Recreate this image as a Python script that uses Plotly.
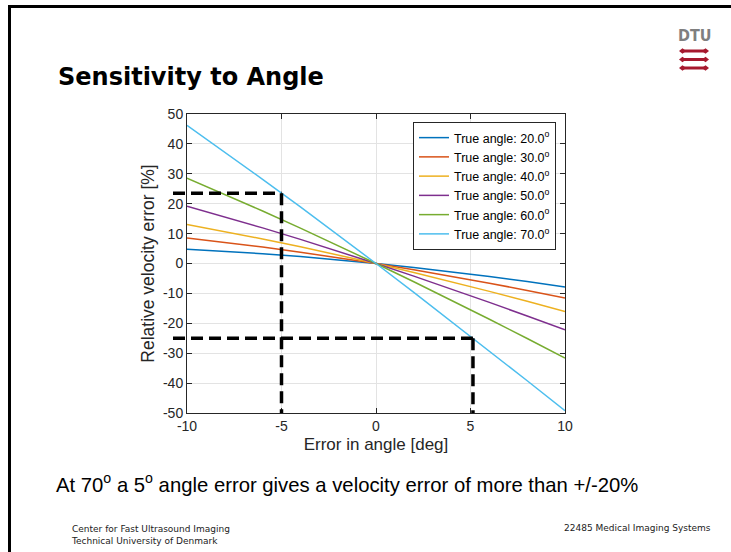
import plotly.graph_objects as go

# ---------------- data ----------------
ANGLE_ERROR = [-10, -8, -6, -4, -2, 0, 2, 4, 6, 8, 10]
TRUE_ANGLES = ["20.0", "30.0", "40.0", "50.0", "60.0", "70.0"]
ERR_20 = [4.80, 4.09, 3.26, 2.30, 1.21, 0.0, -1.33, -2.78, -4.35, -6.04, -7.84]
ERR_30 = [8.51, 7.06, 5.49, 3.78, 1.95, 0.0, -2.08, -4.27, -6.58, -9.01, -11.55]
ERR_40 = [13.05, 10.71, 8.22, 5.61, 2.87, 0.0, -2.99, -6.10, -9.32, -12.65, -16.09]
ERR_50 = [19.17, 15.61, 11.91, 8.07, 4.10, 0.0, -4.22, -8.56, -13.01, -17.56, -22.21]
ERR_60 = [28.56, 23.13, 17.56, 11.84, 5.98, 0.0, -6.11, -12.33, -18.65, -25.08, -31.60]
ERR_70 = [46.19, 37.26, 28.17, 18.92, 9.53, 0.0, -9.65, -19.41, -29.27, -39.21, -49.23]
SERIES = [ERR_20, ERR_30, ERR_40, ERR_50, ERR_60, ERR_70]

X_TICKS = [-10, -5, 0, 5, 10]
Y_TICKS = [-50, -40, -30, -20, -10, 0, 10, 20, 30, 40, 50]

# marked points (dashed guide lines)
MARK_X = [-5.0, 5.13]
MARK_Y = [23.5, -25.0]

COLORS = ["#0072BD", "#D95319", "#EDB120", "#7E2F8E", "#77AC30", "#4DBEEE"]

# ---------------- layout geometry ----------------
W, H = 731, 552
L, R, T, B = 187, 565, 114, 413
XR = [X_TICKS[0], X_TICKS[-1]]
YR = [Y_TICKS[0], Y_TICKS[-1]]


def px(xp):
    return (xp - L) / (R - L)


def py(yp):
    return (B - yp) / (B - T)


fig = go.Figure()
for name, vals, col in zip(TRUE_ANGLES, SERIES, COLORS):
    fig.add_trace(go.Scatter(
        x=ANGLE_ERROR, y=vals, mode="lines",
        name=f"True angle: {name}<sup>o</sup>",
        line=dict(color=col, width=1.5),
    ))

axis_common = dict(
    showline=True, linecolor="#262626", linewidth=1, mirror="ticks",
    ticks="inside", ticklen=5, tickcolor="#262626", tickwidth=1,
    showgrid=True, gridcolor="#e3e3e3", gridwidth=1, zeroline=False,
    tickfont=dict(family="Liberation Sans, Arial, sans-serif", size=14, color="#262626"),
)

fig.update_xaxes(range=XR, tickvals=X_TICKS, ticktext=[str(v) for v in X_TICKS],
                 title=dict(text="Error in angle [deg]", standoff=5,
                            font=dict(family="Liberation Sans, Arial, sans-serif", size=17, color="#262626")),
                 **axis_common)
fig.update_yaxes(range=YR, tickvals=Y_TICKS, ticktext=[str(v) for v in Y_TICKS],
                 title=dict(text="Relative velocity error [%]", standoff=3,
                            font=dict(family="Liberation Sans, Arial, sans-serif", size=17.5, color="#262626")),
                 **axis_common)

shapes = []
# dashed guide lines
for mx, my in zip(MARK_X, MARK_Y):
    xdom = (mx - XR[0]) / (XR[1] - XR[0])
    shapes.append(dict(type="line", xref="x domain", yref="y",
                       x0=px(173), x1=xdom, y0=my, y1=my,
                       line=dict(color="black", width=3.5, dash="12px,6px")))
    shapes.append(dict(type="line", xref="x", yref="y",
                       x0=mx, x1=mx, y0=my, y1=YR[0],
                       line=dict(color="black", width=3.5, dash="12px,6px")))
# slide border
shapes.append(dict(type="line", xref="paper", yref="paper",
                   x0=px(8), x1=px(W + 2), y0=py(6.5), y1=py(6.5),
                   line=dict(color="black", width=3)))
shapes.append(dict(type="line", xref="paper", yref="paper",
                   x0=px(9.5), x1=px(9.5), y0=py(5), y1=py(H + 2),
                   line=dict(color="black", width=3)))
# DTU logo red bars
for yb in [51, 59.5, 68]:
    shapes.append(dict(type="line", xref="paper", yref="paper",
                       x0=px(682), x1=px(706), y0=py(yb), y1=py(yb),
                       line=dict(color="#A6192E", width=3)))
    for xe in [682.5, 705.5]:
        shapes.append(dict(type="path", xref="paper", yref="paper",
                           path=(f"M {px(xe - 3.5)},{py(yb)} L {px(xe)},{py(yb - 2.8)} "
                                 f"L {px(xe + 3.5)},{py(yb)} L {px(xe)},{py(yb + 2.8)} Z"),
                           fillcolor="#A6192E", line=dict(width=0)))

annotations = [
    dict(text="<b>Sensitivity to Angle</b>", xref="paper", yref="paper",
         x=px(56), y=py(77), xanchor="left", yanchor="middle", showarrow=False,
         font=dict(family="DejaVu Sans, Verdana, sans-serif", size=24, color="black")),
    dict(text="<b>DTU</b>", xref="paper", yref="paper",
         x=px(694), y=py(36), xanchor="center", yanchor="middle", showarrow=False,
         font=dict(family="Liberation Sans Narrow, DejaVu Sans Condensed, DejaVu Sans, sans-serif",
                   size=16, color="#7f7f7f")),
    dict(text="At 70<sup>o</sup> a 5<sup>o</sup> angle error gives a velocity error of more than +/-20%",
         xref="paper", yref="paper", x=px(54), y=py(483), xanchor="left", yanchor="middle",
         showarrow=False,
         font=dict(family="Liberation Sans, Arial, sans-serif", size=20.3, color="black")),
    dict(text="Center for Fast Ultrasound Imaging<br>Technical University of Denmark",
         xref="paper", yref="paper", x=px(69), y=py(534.5), xanchor="left", yanchor="middle",
         align="left", showarrow=False,
         font=dict(family="DejaVu Sans, Verdana, sans-serif", size=9, color="#222222")),
    dict(text="22485 Medical Imaging Systems",
         xref="paper", yref="paper", x=px(713), y=py(528), xanchor="right", yanchor="middle",
         showarrow=False,
         font=dict(family="DejaVu Sans, Verdana, sans-serif", size=9, color="#222222")),
]

fig.update_layout(
    width=W, height=H,
    margin=dict(l=L, r=W - R, t=T, b=H - B, pad=0),
    paper_bgcolor="white", plot_bgcolor="white",
    showlegend=True,
    legend=dict(x=px(556), y=py(122), xanchor="right", yanchor="top",
                bgcolor="white", bordercolor="#262626", borderwidth=1,
                font=dict(family="Liberation Sans, Arial, sans-serif", size=12.5, color="black"),
                itemwidth=30, tracegroupgap=0),
    shapes=shapes,
    annotations=annotations,
)

fig.write_html("out.html")
